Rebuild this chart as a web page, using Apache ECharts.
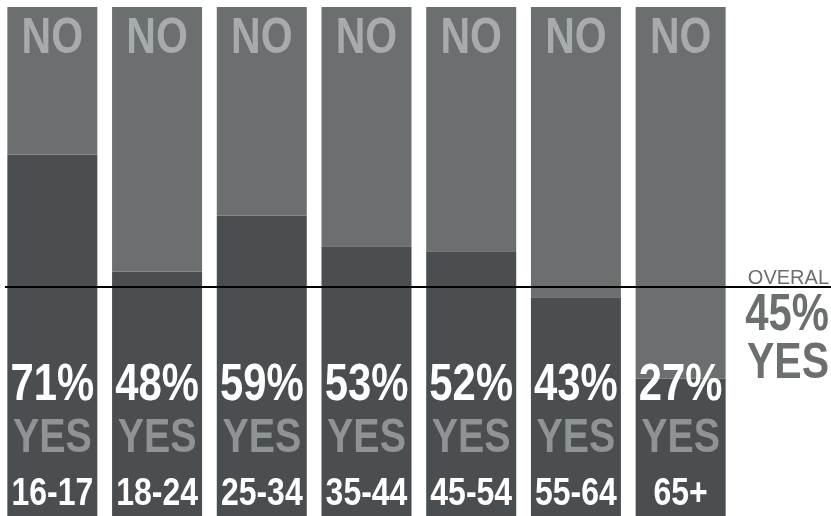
<!DOCTYPE html>
<html>
<head>
<meta charset="utf-8">
<script src="https://cdn.jsdelivr.net/npm/echarts@6/dist/echarts.min.js"></script>
<style>html,body{margin:0;padding:0;background:#fff}#c{width:831px;height:516px}</style>
</head>
<body>
<div id="c"></div>
<script>
var categories = ['16-17', '18-24', '25-34', '35-44', '45-54', '55-64', '65+'];
var yesShare = [71, 48, 59, 53, 52, 43, 27];
var noShare = [29, 52, 41, 47, 48, 57, 73];
var overallYes = 45;

var FONT = "'Liberation Sans', Arial, sans-serif";
var SX = 0.82; // condensed look
var NO_BAR = '#6b6f70', YES_BAR = '#4a4e51';

function txt(x, y, s, size, color, weight) {
  return {
    type: 'text', x: x, y: y, scaleX: SX, scaleY: 1,
    style: {text: s, fontFamily: FONT, fontWeight: weight || 'bold', fontSize: size,
            fill: color, align: 'center', verticalAlign: 'middle'}
  };
}

var labelData = categories.map(function (c, i) { return [i, yesShare[i]]; });

var chart = echarts.init(document.getElementById('c'), null, {renderer: 'canvas'});
chart.setOption({
  animation: false,
  backgroundColor: '#ffffff',
  grid: [
    {left: -2, width: 735, top: 7, height: 514},
    {left: 5, right: 0, top: 7, height: 514}
  ],
  xAxis: [
    {type: 'category', data: categories, gridIndex: 0, axisLine: {show: false}, axisTick: {show: false}, axisLabel: {show: false}},
    {type: 'value', min: 0, max: 1, gridIndex: 1, show: false}
  ],
  yAxis: [
    {type: 'value', min: 0, max: 100, gridIndex: 0, show: false},
    {type: 'value', min: 0, max: 100, gridIndex: 1, show: false}
  ],
  series: [
    {name: 'YES', type: 'bar', stack: 'a', barWidth: 90, data: yesShare, itemStyle: {color: YES_BAR}},
    {name: 'NO', type: 'bar', stack: 'a', barWidth: 90, data: noShare, itemStyle: {color: NO_BAR}},
    {
      name: 'OVERALL', type: 'line', xAxisIndex: 1, yAxisIndex: 1, z: 5,
      data: [[0, overallYes], [1, overallYes]], symbol: 'none',
      lineStyle: {color: '#000000', width: 2}
    },
    {
      name: 'labels', type: 'custom', xAxisIndex: 0, yAxisIndex: 0, z: 10,
      data: labelData,
      renderItem: function (params, api) {
        var i = api.value(0);
        var base = api.coord([i, 0]);
        var top = api.coord([i, 100]);
        var x = base[0];
        return {
          type: 'group',
          children: [
            txt(x, top[1] + 32, 'NO', 50, '#a7abac'),
            txt(x, base[1] - 130, api.value(1) + '%', 51, '#ffffff'),
            txt(x, base[1] - 77, 'YES', 48, '#8f9395'),
            txt(x, base[1] - 22, categories[i], 39, '#ffffff')
          ]
        };
      }
    },
    {
      name: 'overallLabel', type: 'custom', xAxisIndex: 1, yAxisIndex: 1, z: 10,
      data: [[1, overallYes]],
      renderItem: function (params, api) {
        var p = api.coord([api.value(0), api.value(1)]);
        var xr = p[0] - 2;
        return {
          type: 'group',
          children: [
            {type: 'text', x: xr, y: p[1] - 8,
             style: {text: 'OVERAL', fontFamily: FONT, fontSize: 20, fill: NO_BAR, align: 'right', verticalAlign: 'middle'}},
            {type: 'text', x: xr, y: p[1] + 29, scaleX: SX,
             style: {text: api.value(1) + '%', fontFamily: FONT, fontWeight: 'bold', fontSize: 51, fill: NO_BAR, align: 'right', verticalAlign: 'middle'}},
            {type: 'text', x: xr, y: p[1] + 77, scaleX: SX,
             style: {text: 'YES', fontFamily: FONT, fontWeight: 'bold', fontSize: 50, fill: NO_BAR, align: 'right', verticalAlign: 'middle'}}
          ]
        };
      }
    }
  ]
});
</script>
</body>
</html>
